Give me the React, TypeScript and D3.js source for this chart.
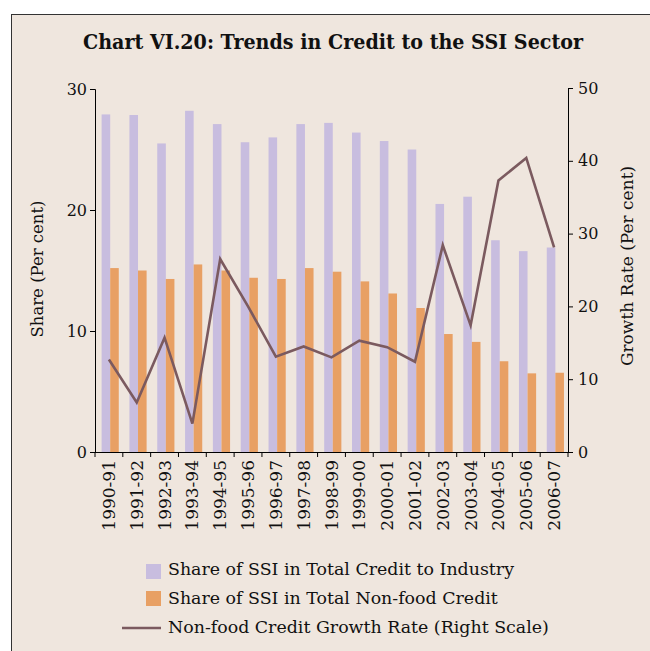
import React, { useEffect, useRef } from 'react';
import * as d3 from 'd3';

// Fiscal years on the x axis
const years = [
  '1990-91', '1991-92', '1992-93', '1993-94', '1994-95', '1995-96', '1996-97',
  '1997-98', '1998-99', '1999-00', '2000-01', '2001-02', '2002-03', '2003-04',
  '2004-05', '2005-06', '2006-07',
];

// Share of SSI in total credit to industry (left scale)
const shareIndustry = [
  27.9, 27.85, 25.5, 28.2, 27.1, 25.6, 26.0, 27.1, 27.2, 26.4, 25.7, 25.0,
  20.5, 21.1, 17.5, 16.6, 16.9,
];

// Share of SSI in total non-food credit (left scale)
const shareNonFood = [
  15.2, 15.0, 14.3, 15.5, 15.0, 14.4, 14.3, 15.2, 14.9, 14.1, 13.1, 11.9,
  9.75, 9.1, 7.5, 6.5, 6.55,
];

// Non-food credit growth rate (right scale)
const growthRate = [
  12.7, 6.8, 15.7, 3.9, 26.5, 20.0, 13.1, 14.5, 13.0, 15.3, 14.4, 12.4,
  28.4, 17.4, 37.3, 40.4, 28.1,
];

const leftTicks = [0, 10, 20, 30];
const rightTicks = [0, 10, 20, 30, 40, 50];

const legendItems = [
  { label: 'Share of SSI in Total Credit to Industry', kind: 'bar', key: 'ind' },
  { label: 'Share of SSI in Total Non-food Credit', kind: 'bar', key: 'nf' },
  { label: 'Non-food Credit Growth Rate (Right Scale)', kind: 'line', key: 'gr' },
];

const WIDTH = 650;
const HEIGHT = 651;
const FONT = '"DejaVu Serif", serif';

const colors: Record<string, string> = {
  ind: '#c8bddf',
  nf: '#e8a064',
  gr: '#7b5a5f',
};

const App: React.FC = () => {
  const svgRef = useRef<SVGSVGElement>(null);

  useEffect(() => {
    if (!svgRef.current) return;
    const svg = d3.select(svgRef.current);
    svg.selectAll('*').remove();

    const left = 95;
    const right = 568;
    const top = 89;
    const bottom = 452;

    // panel
    svg.append('rect')
      .attr('x', 11.5)
      .attr('y', 14.5)
      .attr('width', 700)
      .attr('height', 700)
      .attr('fill', '#efe6de')
      .attr('stroke', '#333')
      .attr('stroke-width', 1);

    svg.append('text')
      .attr('x', 333)
      .attr('y', 49)
      .attr('text-anchor', 'middle')
      .attr('font-family', FONT)
      .attr('font-weight', 'bold')
      .attr('font-size', 20)
      .attr('textLength', 500)
      .attr('lengthAdjust', 'spacingAndGlyphs')
      .attr('fill', '#111')
      .text('Chart VI.20: Trends in Credit to the SSI Sector');

    const x = d3.scaleBand()
      .domain(years)
      .range([left, right])
      .padding(0);

    const xSub = d3.scaleBand()
      .domain(['ind', 'nf'])
      .range([0, x.bandwidth()])
      .paddingInner(0)
      .paddingOuter(0.62)
      .align(0.62);

    const yLeft = d3.scaleLinear().domain([0, 30]).range([bottom, top]);
    const yRight = d3.scaleLinear().domain([0, 50]).range([bottom, top - 1]);

    // bars
    const barSeries = [
      { key: 'ind', values: shareIndustry },
      { key: 'nf', values: shareNonFood },
    ];
    barSeries.forEach(s => {
      svg.append('g')
        .selectAll('rect')
        .data(s.values)
        .enter()
        .append('rect')
        .attr('x', (_, i) => (x(years[i]) || 0) + (xSub(s.key) || 0))
        .attr('y', d => yLeft(d))
        .attr('width', xSub.bandwidth())
        .attr('height', d => bottom - yLeft(d))
        .attr('fill', colors[s.key]);
    });

    // growth line
    const line = d3.line<number>()
      .x((_, i) => (x(years[i]) || 0) + x.bandwidth() / 2)
      .y(d => yRight(d));

    svg.append('path')
      .datum(growthRate)
      .attr('fill', 'none')
      .attr('stroke', colors.gr)
      .attr('stroke-width', 2.6)
      .attr('stroke-linejoin', 'miter')
      .attr('d', line);

    // left axis
    const gl = svg.append('g')
      .attr('transform', `translate(${left},0)`)
      .call(d3.axisLeft(yLeft).tickValues(leftTicks).tickSize(5).tickPadding(3));
    gl.selectAll('text')
      .attr('font-family', FONT)
      .attr('font-size', 16)
      .attr('fill', '#111');

    // right axis
    const gr = svg.append('g')
      .attr('transform', `translate(${right},0)`)
      .call(d3.axisRight(yRight).tickValues(rightTicks).tickSize(5).tickPadding(5));
    gr.selectAll('text')
      .attr('font-family', FONT)
      .attr('font-size', 16)
      .attr('fill', '#111');

    // bottom axis, ticks at the category boundaries
    const gx = svg.append('g');
    gx.append('line')
      .attr('x1', left)
      .attr('x2', right)
      .attr('y1', bottom + 0.5)
      .attr('y2', bottom + 0.5)
      .attr('stroke', '#000');
    gx.selectAll('line.tick')
      .data(d3.range(years.length + 1))
      .enter()
      .append('line')
      .attr('class', 'tick')
      .attr('x1', i => left + i * x.bandwidth())
      .attr('x2', i => left + i * x.bandwidth())
      .attr('y1', bottom)
      .attr('y2', bottom + 5)
      .attr('stroke', '#000');
    gx.selectAll('text')
      .data(years)
      .enter()
      .append('text')
      .attr('transform', d => `translate(${(x(d) || 0) + x.bandwidth() / 2 + 6},${bottom + 8}) rotate(-90)`)
      .attr('text-anchor', 'end')
      .attr('font-family', FONT)
      .attr('font-size', 17)
      .attr('fill', '#111')
      .text(d => d);

    // axis titles
    svg.append('text')
      .attr('transform', `translate(43,269) rotate(-90)`)
      .attr('text-anchor', 'middle')
      .attr('font-family', FONT)
      .attr('font-size', 16.5)
      .attr('fill', '#111')
      .text('Share (Per cent)');

    svg.append('text')
      .attr('transform', `translate(633,266) rotate(-90)`)
      .attr('text-anchor', 'middle')
      .attr('font-family', FONT)
      .attr('font-size', 17)
      .attr('fill', '#111')
      .text('Growth Rate (Per cent)');

    // legend
    const lg = svg.append('g');
    legendItems.forEach((item, i) => {
      const yy = 570 + i * 29;
      if (item.kind === 'bar') {
        lg.append('rect')
          .attr('x', 146)
          .attr('y', yy - 6 - i * 2)
          .attr('width', 15)
          .attr('height', 15)
          .attr('fill', colors[item.key]);
      } else {
        lg.append('line')
          .attr('x1', 122)
          .attr('x2', 161)
          .attr('y1', yy)
          .attr('y2', yy)
          .attr('stroke', colors[item.key])
          .attr('stroke-width', 2.6);
      }
      lg.append('text')
        .attr('x', 168)
        .attr('y', yy + 5)
        .attr('font-family', FONT)
        .attr('font-size', 17.4)
        .attr('fill', '#111')
        .text(item.label);
    });
  }, []);

  return (
    <svg
      ref={svgRef}
      width={WIDTH}
      height={HEIGHT}
      style={{ position: 'absolute', top: 0, left: 0, background: '#fff' }}
    />
  );
};

export default App;
